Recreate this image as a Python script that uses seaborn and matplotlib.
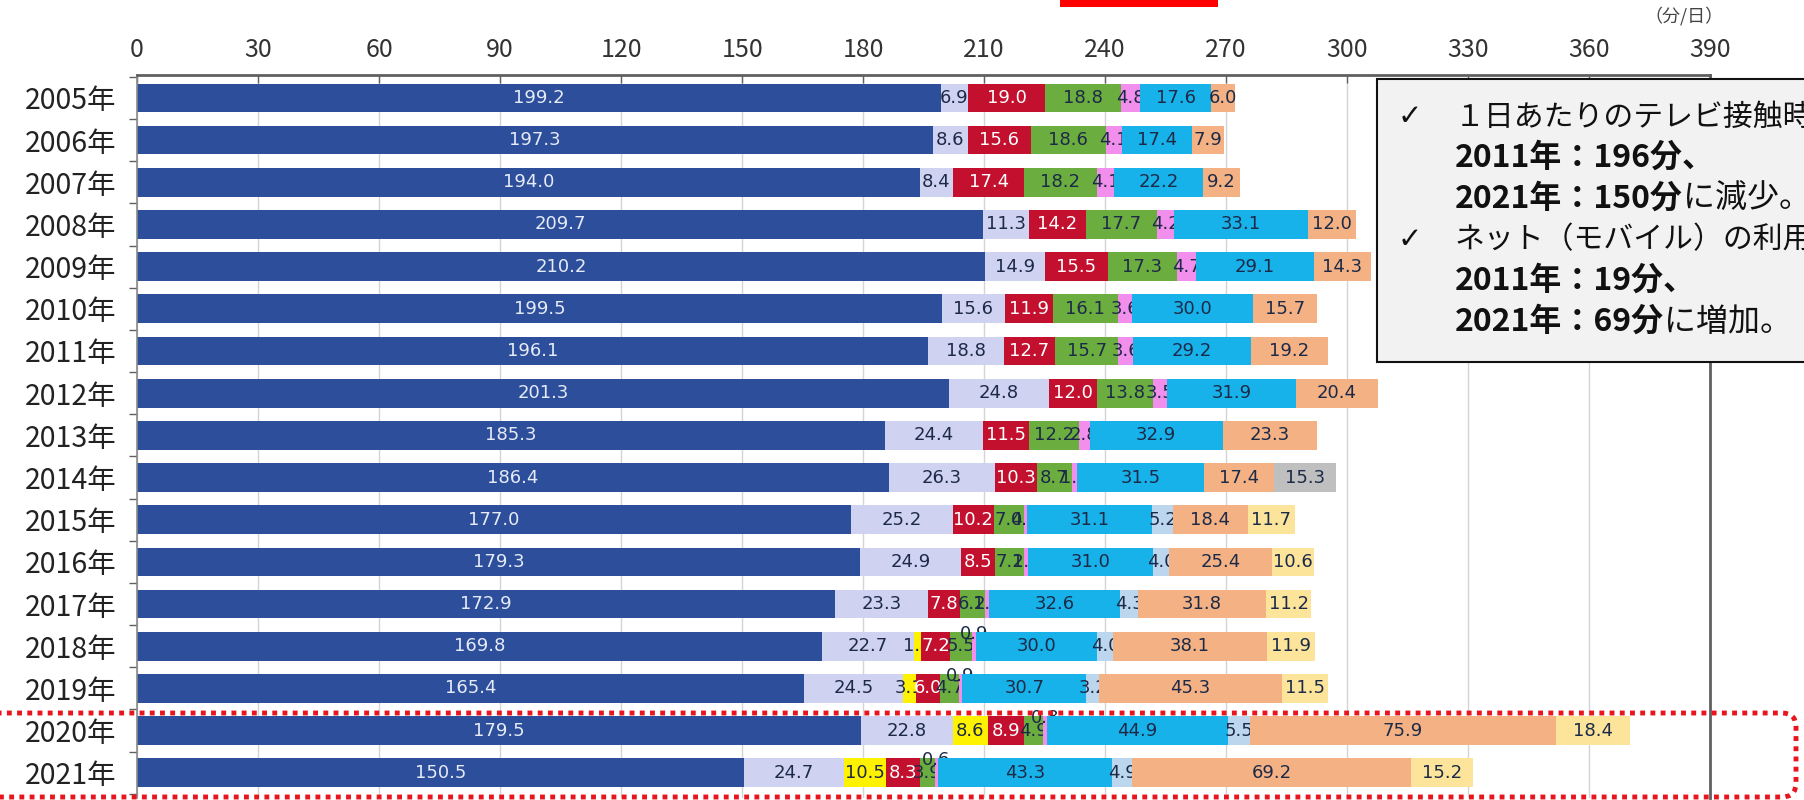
import numpy as np
import pandas as pd
import matplotlib.pyplot as plt
import matplotlib.transforms as mtransforms
from matplotlib.patches import FancyBboxPatch, Rectangle
import seaborn as sns

# %% data (minutes per day)
years = ['2005年', '2006年', '2007年', '2008年', '2009年', '2010年', '2011年',
         '2012年', '2013年', '2014年', '2015年', '2016年', '2017年', '2018年',
         '2019年', '2020年', '2021年']

tv = [199.2, 197.3, 194.0, 209.7, 210.2, 199.5, 196.1, 201.3, 185.3, 186.4,
      177.0, 179.3, 172.9, 169.8, 165.4, 179.5, 150.5]
lavender = [6.9, 8.6, 8.4, 11.3, 14.9, 15.6, 18.8, 24.8, 24.4, 26.3,
            25.2, 24.9, 23.3, 22.7, 24.5, 22.8, 24.7]
yellow = [0, 0, 0, 0, 0, 0, 0, 0, 0, 0, 0, 0, 0, 1.9, 3.1, 8.6, 10.5]
red = [19.0, 15.6, 17.4, 14.2, 15.5, 11.9, 12.7, 12.0, 11.5, 10.3,
       10.2, 8.5, 7.8, 7.2, 6.0, 8.9, 8.3]
green = [18.8, 18.6, 18.2, 17.7, 17.3, 16.1, 15.7, 13.8, 12.2, 8.7,
         7.4, 7.2, 6.2, 5.5, 4.7, 4.9, 3.9]
pink = [4.8, 4.1, 4.1, 4.2, 4.7, 3.6, 3.6, 3.5, 2.8, 1.3,
        0.8, 1.0, 1.0, 0.9, 0.9, 0.8, 0.6]
cyan = [17.6, 17.4, 22.2, 33.1, 29.1, 30.0, 29.2, 31.9, 32.9, 31.5,
        31.1, 31.0, 32.6, 30.0, 30.7, 44.9, 43.3]
lightblue = [0, 0, 0, 0, 0, 0, 0, 0, 0, 0, 5.2, 4.0, 4.3, 4.0, 3.2, 5.5, 4.9]
orange = [6.0, 7.9, 9.2, 12.0, 14.3, 15.7, 19.2, 20.4, 23.3, 17.4,
          18.4, 25.4, 31.8, 38.1, 45.3, 75.9, 69.2]
lightyellow = [0, 0, 0, 0, 0, 0, 0, 0, 0, 0, 11.7, 10.6, 11.2, 11.9, 11.5, 18.4, 15.2]
gray = [0, 0, 0, 0, 0, 0, 0, 0, 0, 15.3, 0, 0, 0, 0, 0, 0, 0]

series = [tv, lavender, yellow, red, green, pink, cyan, lightblue, orange, lightyellow, gray]
colors = ['#2D4E9A', '#CFD2F0', '#FFF200', '#C3102E', '#6BAD3F', '#F28EEC',
          '#17B2EA', '#BCD6EE', '#F3B184', '#FCE49A', '#BFBFBF']
label_colors = ['#E6EBF8', '#1C2A48', '#1C2A48', '#FFFFFF', '#1C2A48', '#1C2A48',
                '#1C2A48', '#1C2A48', '#1C2A48', '#1C2A48', '#1C2A48']

# %% figure
sns.set_theme(style='white')
plt.rcParams['font.family'] = ['Noto Sans CJK JP', 'DejaVu Sans']

fig = plt.figure(figsize=(18.04, 8), dpi=100)
ax = fig.add_axes([0.076, 0.0025, 0.872, 0.9035])

df = pd.DataFrame({'year': years})
offset = np.zeros(len(years))
for k, vals in enumerate(series):
    vals = np.array(vals, dtype=float)
    df['v'] = vals
    sns.barplot(data=df, x='v', y='year', orient='h', left=offset, color=colors[k],
                saturation=1, width=0.68, linewidth=0, zorder=2 + 2 * k, ax=ax)
    for i, v in enumerate(vals):
        if v <= 0:
            continue
        dy = 0
        if k == 5 and i >= 13:
            dy = -0.3
        ax.text(offset[i] + v / 2, i + dy, f'{v:.1f}', ha='center', va='center',
                fontsize=13, color=label_colors[k], family='DejaVu Sans',
                zorder=3 + 2 * k)
    offset = offset + vals

ax.set_xlim(0, 390)
ax.set_ylim(16.6, -0.54)
ax.set_xlabel('')
ax.set_ylabel('')

ax.xaxis.tick_top()
ax.set_xticks(np.arange(0, 391, 30))
ax.tick_params(axis='x', direction='in', length=6, width=1, color='#606060',
               labelsize=18, labelcolor='#333333', pad=9)
ax.xaxis.grid(True, color='#D4D4D4', linewidth=1)
ax.set_axisbelow(True)

ax.set_yticks(np.arange(len(years)))
ax.set_yticklabels(years)
ax.set_yticks(np.arange(-0.5, len(years), 1), minor=True)
ax.tick_params(axis='y', which='major', length=0, labelsize=20.5,
               labelcolor='#222222', pad=15)
ax.tick_params(axis='y', which='minor', length=6, width=1, color='#606060', left=True)

for side in ['top', 'right']:
    ax.spines[side].set_color('#606060')
    ax.spines[side].set_linewidth(2)
ax.spines['left'].set_color('#8A8A8A')
ax.spines['left'].set_linewidth(1.2)
ax.spines['bottom'].set_visible(False)

fig.text(1724 / 1804, 1 - 16 / 800, '（分/日）', ha='right', va='center',
         fontsize=13, color='#444444')

# %% red marker at the top edge
fig.add_artist(Rectangle((1060, 793), 158, 9, transform=mtransforms.IdentityTransform(),
                         facecolor='#FF0000', edgecolor='none'))

# %% dotted frame around 2020 and 2021
fig.add_artist(FancyBboxPatch((-40, 3), 1836, 84,
                              boxstyle='round,pad=0,rounding_size=14',
                              transform=mtransforms.IdentityTransform(),
                              fill=False, edgecolor='#E8141E', linewidth=3.5,
                              linestyle=(0, (1, 1.1)), zorder=20))

# %% comment box
fig.add_artist(Rectangle((1377, 800 - 362), 480, 283, transform=mtransforms.IdentityTransform(),
                         facecolor='#F2F2F2', edgecolor='#111111', linewidth=1.5, zorder=15))

renderer = fig.canvas.get_renderer()
lines = [
    ('✓', '１日あたりのテレビ接触時間は、', '', False),
    ('', '2011年：196分、', '', True),
    ('', '2021年：150分', 'に減少。', True),
    ('✓', 'ネット（モバイル）の利用時間は、', '', False),
    ('', '2011年：19分、', '', True),
    ('', '2021年：69分', 'に増加。', True),
]
for n, (mark, first, rest, bold) in enumerate(lines):
    ypix = 800 - (117 + 41 * n)
    if mark:
        fig.text(1398 / 1804, ypix / 800, mark, ha='left', va='center', fontsize=21,
                 fontweight='bold', family='DejaVu Sans', color='#111111', zorder=16)
    t = fig.text(1455 / 1804, ypix / 800, first, ha='left', va='center',
                 fontsize=23 if bold else 21.5,
                 fontweight='bold' if bold else 'normal', color='#111111', zorder=16)
    if rest:
        bb = t.get_window_extent(renderer=renderer)
        fig.text(bb.x1 / 1804, ypix / 800, rest, ha='left', va='center', fontsize=23,
                 color='#111111', zorder=16)

fig.savefig('out.png', dpi=100, facecolor='white')
